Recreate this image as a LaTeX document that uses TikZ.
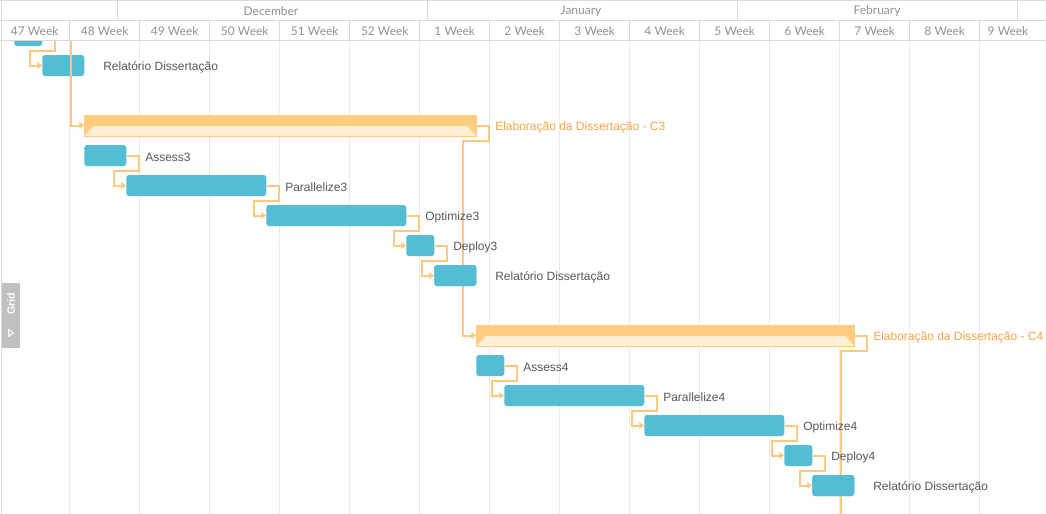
\documentclass[tikz,border=0pt]{standalone}
\usepackage{fontspec}
\setmainfont{Liberation Sans}
\newfontfamily\latofont{Lato}
\usetikzlibrary{arrows.meta,calc}
\definecolor{taskblue}{RGB}{84,189,212}
\definecolor{sumdark}{RGB}{255,204,128}
\definecolor{sumlight}{RGB}{255,238,214}
\definecolor{connc}{RGB}{250,201,125}
\definecolor{sumtext}{RGB}{245,164,70}
\definecolor{labtext}{RGB}{88,88,88}
\definecolor{hdrtext}{RGB}{145,145,145}
\definecolor{hdrline}{RGB}{218,218,218}
\definecolor{gridline}{RGB}{234,234,234}
\definecolor{tabgray}{RGB}{192,192,192}
\begin{document}
\begin{tikzpicture}[x=0.75pt,y=-0.75pt,
  taskbar/.style={rectangle, fill=taskblue, rounded corners=2pt, inner sep=0pt,
                  minimum height=15.75pt, anchor=west},
  taskw/.style={minimum width=#1*0.75pt},
  sumbar/.style={rectangle, fill=sumlight, draw=sumdark, line width=0.75pt, inner sep=0pt,
                 minimum height=15.75pt, anchor=west},
  lab/.style={anchor=west, inner sep=0pt, yshift=-1.2pt, font=\fontsize{9}{10}\selectfont, text=labtext},
  sumlab/.style={anchor=west, inner sep=0pt, yshift=-1.2pt, font=\fontsize{9}{10}\selectfont, text=sumtext},
  conn/.style={draw=connc, line width=1.5pt, -{Triangle[length=3.5pt,width=5pt]}},
  hdr/.style={inner sep=0pt, yshift=-0.8pt, font=\latofont\fontsize{9}{10}\selectfont, text=hdrtext},
  gridl/.style={draw=gridline, line width=0.75pt},
  hline/.style={draw=hdrline, line width=0.75pt}
]
\useasboundingbox (0,0) rectangle (1046,514);
\clip (0,0) rectangle (1046,514);
\fill[white] (0,0) rectangle (1046,514);

% body grid lines
\foreach \k in {0,...,13} {
  \draw[gridl] ({69.5+70*\k},40) -- ({69.5+70*\k},514);
}
\draw[draw=hdrline, line width=0.75pt] (1.5,0) -- (1.5,514);

% task bars
\node[taskbar, taskw=28] (t0) at (14,35.5) {};
\node[taskbar, taskw=42] (r2) at (42,65.5) {};
\node[sumbar, taskw=392] (c3) at (84,125.5) {};
\node[taskbar, taskw=42] (a3) at (84,155.5) {};
\node[taskbar, taskw=140] (p3) at (126,185.5) {};
\node[taskbar, taskw=140] (o3) at (266,215.5) {};
\node[taskbar, taskw=28] (d3) at (406,245.5) {};
\node[taskbar, taskw=42] (r3) at (434,275.5) {};
\node[sumbar, taskw=378] (c4) at (476,335.5) {};
\node[taskbar, taskw=28] (a4) at (476,365.5) {};
\node[taskbar, taskw=140] (p4) at (504,395.5) {};
\node[taskbar, taskw=140] (o4) at (644,425.5) {};
\node[taskbar, taskw=28] (d4) at (784,455.5) {};
\node[taskbar, taskw=42] (r4) at (812,485.5) {};

% summary bar decorations
\foreach \s in {c3,c4} {
  \fill[sumdark] (\s.north west) rectangle (\s.east);
  \fill[sumdark] (\s.west) -- ++(10,0) -- (\s.south west) -- cycle;
  \fill[sumdark] (\s.east) -- ++(-10,0) -- (\s.south east) -- cycle;
}

% connectors
\coordinate (c2end) at (71,0);
\coordinate (bottomend) at (841,530);
\draw[conn] (c2end) |- (c3.west);
\foreach \a/\b in {t0/r2, a3/p3, p3/o3, o3/d3, d3/r3, a4/p4, p4/o4, o4/d4, d4/r4} {
  \draw[conn] (\a.east) -- ++(12,0) -- ++(0,15) -| ([xshift=-9pt]\b.west) -- (\b.west);
}
\draw[conn] (c3.east) -- ++(12,0) -- ++(0,15) -| ([xshift=-9.75pt]c4.west) -- (c4.west);
\draw[conn, -] (c4.east) -- ++(12,0) -- ++(0,15) -| (bottomend);

% redraw bars over connectors where they overlap
\node[taskbar, taskw=42] at (434,275.5) {};
\node[taskbar, taskw=42] at (812,485.5) {};

% labels
\node[lab] (r2l) at (103,65.5) {Relatório Dissertação};
\node[sumlab] (c3l) at (495,125.5) {Elaboração da Dissertação - C3};
\node[lab] (a3l) at (145,155.5) {Assess3};
\node[lab] (p3l) at (285,185.5) {Parallelize3};
\node[lab] (o3l) at (425,215.5) {Optimize3};
\node[lab] (d3l) at (453,245.5) {Deploy3};
\node[lab] (r3l) at (495,275.5) {Relatório Dissertação};
\node[sumlab] (c4l) at (873,335.5) {Elaboração da Dissertação - C4};
\node[lab] (a4l) at (523,365.5) {Assess4};
\node[lab] (p4l) at (663,395.5) {Parallelize4};
\node[lab] (o4l) at (803,425.5) {Optimize4};
\node[lab] (d4l) at (831,455.5) {Deploy4};
\node[lab] (r4l) at (873,485.5) {Relatório Dissertação};

% header
\fill[white] (0,0) rectangle (1046,40);
\draw[hline] (0,0.5) -- (1046,0.5);
\draw[hline] (0,20) -- (1046,20);
\draw[hline] (0,40) -- (1046,40);
\draw[hline] (1.5,0) -- (1.5,40);
\foreach \x in {117,427,737,1017} { \draw[hline] (\x,0) -- (\x,20); }
\foreach \k in {0,...,13} { \draw[hline] ({69.5+70*\k},20) -- ({69.5+70*\k},40); }
\node[hdr] (mdec) at (271,10.5) {December};
\node[hdr] (mjan) at (581,10.5) {January};
\node[hdr] (mfeb) at (877,10.5) {February};
\foreach \w [count=\i from 0] in {47,48,49,50,51,52,1,2,3,4,5,6,7,8} {
  \node[hdr] (wk\i) at ({34.75+70*\i},30.5) {\w{} Week};
}
\node[hdr] (wk14) at (1008,30.5) {9 Week};

% grid tab
\node[fill=tabgray, inner sep=0pt, minimum width=13.5pt, minimum height=48.75pt] (tab) at (11,315.5) {};
\node[rotate=90, text=white, inner sep=0pt, font=\bfseries\fontsize{8}{9}\selectfont] (tabl) at (11,304) {Grid};
\draw[white, line width=0.75pt, line join=round] (8.5,329.5) -- (13.5,333) -- (8.5,336.5) -- cycle;
\end{tikzpicture}
\end{document}
